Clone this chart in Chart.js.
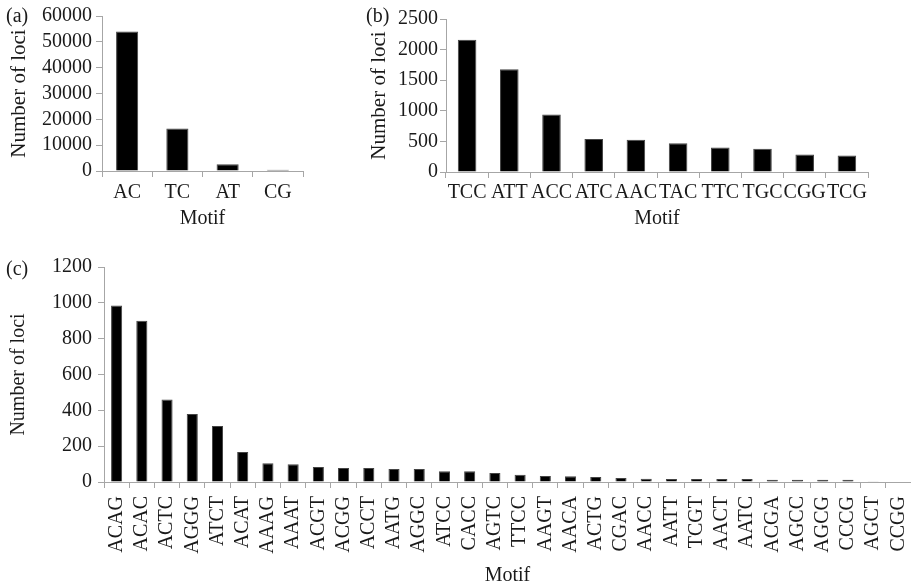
<!DOCTYPE html>
<html>
<head>
<meta charset="utf-8">
<script src="https://cdn.jsdelivr.net/npm/chart.js@4.4.0/dist/chart.umd.min.js"></script>
<style>
    body { margin: 0; background: #fff; width: 911px; height: 586px; position: relative; overflow: hidden; }
    canvas { position: absolute; }
    .panel { position: absolute; font-family: 'Liberation Serif', 'Times New Roman', serif; font-size: 20px; color: #1a1a1a; line-height: 24px; }
</style>
</head>
<body>
<canvas id="grafico-a" width="330" height="232" style="left:0;top:0"></canvas>
<canvas id="grafico-b" width="551" height="232" style="left:360px;top:0"></canvas>
<canvas id="grafico-c" width="911" height="348" style="left:0;top:240px"></canvas>
<span class="panel" style="left:6px;top:3px">(a)</span>
<span class="panel" style="left:366px;top:3px">(b)</span>
<span class="panel" style="left:6px;top:256px">(c)</span>
<script>
// (a) dinucleotide motifs
const motifsA = ['AC', 'TC', 'AT', 'CG'];
const lociA = [54000, 16500, 2600, 500];
const ticksA = [0, 10000, 20000, 30000, 40000, 50000, 60000];

// (b) trinucleotide motifs
const motifsB = ['TCC', 'ATT', 'ACC', 'ATC', 'AAC', 'TAC', 'TTC', 'TGC', 'CGG', 'TCG'];
const lociB = [2160, 1680, 940, 540, 525, 470, 400, 380, 285, 270];
const ticksB = [0, 500, 1000, 1500, 2000, 2500];

// (c) tetranucleotide motifs
const motifsC = ['ACAG', 'ACAC', 'ACTC', 'AGGG', 'ATCT', 'ACAT', 'AAAG', 'AAAT', 'ACGT', 'ACGG',
    'ACCT', 'AATG', 'AGGC', 'ATCC', 'CACC', 'AGTC', 'TTCC', 'AAGT', 'AACA', 'ACTG', 'CGAC',
    'AACC', 'AATT', 'TCGT', 'AACT', 'AATC', 'ACGA', 'AGCC', 'AGCG', 'CCCG', 'AGCT', 'CCGG'];
const lociC = [985, 900, 460, 380, 312, 167, 104, 99, 84, 78, 78, 73, 72, 60, 60, 50, 40, 33, 32,
    28, 22, 18, 17, 17, 17, 17, 13, 13, 13, 13, 4, 0];
const ticksC = [0, 200, 400, 600, 800, 1000, 1200];

Chart.defaults.font.family = "'Liberation Serif', 'Times New Roman', serif";
Chart.defaults.font.size = 20;
Chart.defaults.color = '#1a1a1a';

var gris = '#a6a6a6';

function grafico(id, labels, values, tickValues, s) {
    var ctx = document.getElementById(id);
    const data = {
        labels: labels,
        datasets: [{
            data: values,
            backgroundColor: '#000',
            borderColor: '#444',
            borderWidth: 1,
            barPercentage: 0.44,
            categoryPercentage: 1
        }]
    };
    const config = {
        type: 'bar',
        data: data,
        options: {
            responsive: false,
            animation: false,
            devicePixelRatio: 1,
            layout: { padding: { left: 0, right: s.right, top: s.top, bottom: 0 } },
            plugins: { legend: { display: false }, tooltip: { enabled: false } },
            scales: {
                x: {
                    grid: { drawOnChartArea: false, offset: true, tickLength: 6, color: gris },
                    border: { color: gris },
                    ticks: { autoSkip: false, minRotation: s.rot, maxRotation: s.rot, padding: s.xPad },
                    title: { display: true, text: 'Motif', padding: { top: 0, bottom: s.titleBottom } },
                    afterFit: function(scale) {
                        scale.height = s.xHeight;
                        scale.paddingLeft = 0;
                        scale.paddingRight = 0;
                    }
                },
                y: {
                    min: 0,
                    max: tickValues[tickValues.length - 1],
                    afterBuildTicks: function(scale) {
                        scale.ticks = tickValues.map(v => ({ value: v }));
                    },
                    ticks: { autoSkip: false, padding: s.yPad, callback: v => v },
                    grid: { drawOnChartArea: false, tickLength: 6, color: gris },
                    border: { color: gris },
                    title: {
                        display: true,
                        text: 'Number of loci',
                        font: { size: s.yTitleSize },
                        padding: { top: s.yTitleTop, bottom: 0 }
                    },
                    afterFit: function(scale) { scale.width = s.yWidth; }
                }
            }
        }
    };
    return new Chart(ctx, config);
}

grafico('grafico-a', motifsA, lociA, ticksA, { right: 27, top: 16, xHeight: 61, yWidth: 102, yPad: 4, rot: 0,
    xPad: 4, titleBottom: 1, yTitleSize: 21, yTitleTop: 7 });
grafico('grafico-b', motifsB, lociB, ticksB, { right: 43, top: 19, xHeight: 60, yWidth: 86, yPad: 2, rot: 0,
    xPad: 3, titleBottom: 1, yTitleSize: 21, yTitleTop: 7 });
grafico('grafico-c', motifsC, lociC, ticksC, { right: 0, top: 27, xHeight: 106, yWidth: 104, yPad: 6, rot: 90,
    xPad: 8, titleBottom: 0, yTitleSize: 20, yTitleTop: 7 });
</script>
</body>
</html>
